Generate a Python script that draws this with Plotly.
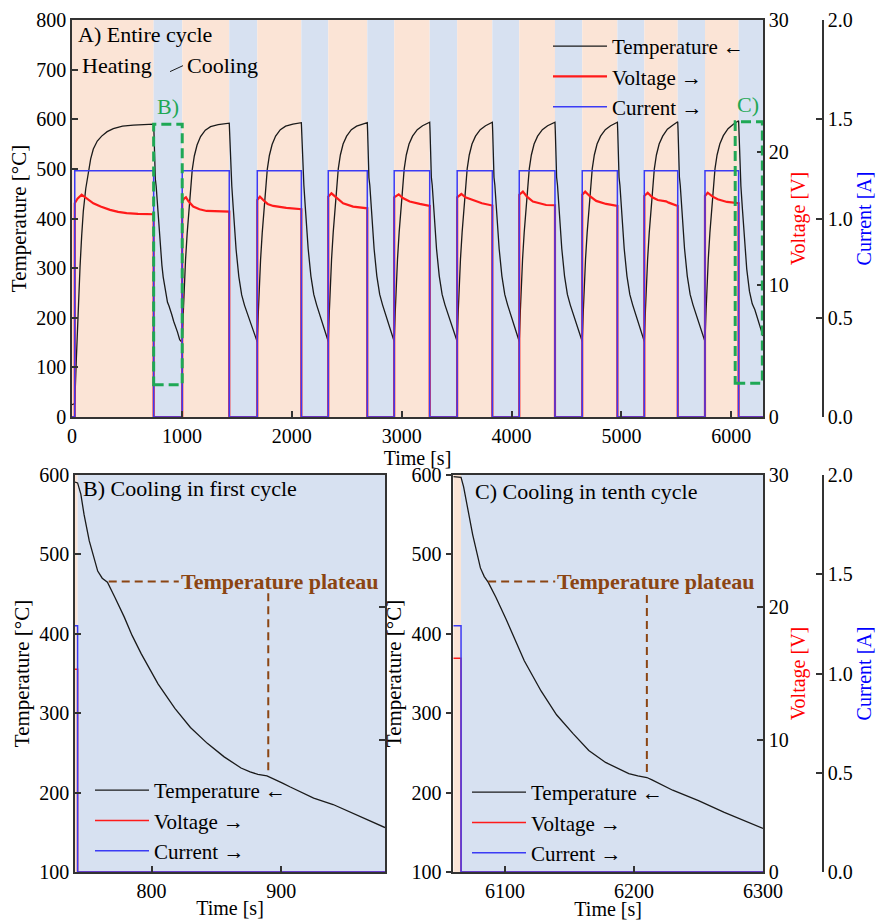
import plotly.graph_objects as go

FONT = "Liberation Serif, Times New Roman, DejaVu Serif, serif"

# ---------------- cycle timing (s) ----------------
heating_band_start = [0, 1003, 1686, 2332, 2932, 3505, 4070, 4643, 5208, 5760]
current_on = [25, 1003, 1686, 2332, 2932, 3505, 4070, 4643, 5208, 5760]
heating_end = [743, 1431, 2087, 2687, 3255, 3825, 4395, 4963, 5512, 6066]
time_end = 6288
current_level = 1.24  # A while heating

# ---------------- panel A: temperature (degC) ----------------
temp_time = [
    0, 25, 40, 55, 73, 88, 103, 125, 149, 170, 194, 230, 270, 320, 376, 460, 558, 650, 743,
    745.5, 748, 752, 758.5, 766, 779, 792, 805, 818, 830, 843, 856, 869, 882, 895, 907, 925, 940, 960, 980, 1003,
    1013, 1023, 1033, 1048, 1063, 1078, 1094, 1113, 1138, 1170, 1213, 1261, 1330, 1431,
    1434, 1440, 1446, 1454, 1467, 1480, 1493, 1518, 1544, 1570, 1595, 1628, 1667, 1686,
    1696, 1706, 1716, 1731, 1746, 1761, 1777, 1796, 1821, 1853, 1896, 1944, 2010, 2087,
    2090, 2096, 2102, 2110, 2123, 2136, 2149, 2174, 2200, 2226, 2251, 2284, 2320, 2332,
    2342, 2352, 2362, 2377, 2392, 2407, 2423, 2442, 2467, 2499, 2542, 2590, 2640, 2687,
    2690, 2696, 2702, 2710, 2723, 2736, 2749, 2774, 2800, 2826, 2851, 2884, 2923, 2932,
    2942, 2952, 2962, 2977, 2992, 3007, 3023, 3042, 3067, 3099, 3142, 3190, 3255,
    3258, 3264, 3270, 3278, 3291, 3304, 3317, 3342, 3368, 3394, 3419, 3452, 3491, 3505,
    3515, 3525, 3535, 3550, 3565, 3580, 3596, 3615, 3640, 3672, 3715, 3763, 3825,
    3828, 3834, 3840, 3848, 3861, 3874, 3887, 3912, 3938, 3964, 3989, 4022, 4061, 4070,
    4080, 4090, 4100, 4115, 4130, 4145, 4161, 4180, 4205, 4237, 4280, 4328, 4395,
    4398, 4404, 4410, 4418, 4431, 4444, 4457, 4482, 4508, 4534, 4559, 4592, 4631, 4643,
    4653, 4663, 4673, 4688, 4703, 4718, 4734, 4753, 4778, 4810, 4853, 4901, 4963,
    4966, 4972, 4978, 4986, 4999, 5012, 5025, 5050, 5076, 5102, 5127, 5160, 5199, 5208,
    5218, 5228, 5238, 5253, 5268, 5283, 5299, 5318, 5343, 5375, 5418, 5466, 5512,
    5515, 5521, 5527, 5535, 5548, 5561, 5574, 5599, 5625, 5651, 5676, 5709, 5748, 5760,
    5770, 5780, 5790, 5805, 5820, 5835, 5851, 5870, 5895, 5927, 5970, 6018, 6066,
    6068, 6071, 6075, 6081, 6087, 6101, 6115, 6140, 6165, 6190, 6214, 6250, 6270, 6288,
]
temp_value = [
    25, 27, 120, 215, 302, 365, 415, 460, 497, 520, 540, 556, 566, 575, 581, 586, 588, 589, 590,
    576, 550, 517, 479, 465, 421, 375, 337, 306, 282, 262, 245, 231, 224, 217, 207, 193, 185, 171, 156, 150,
    212, 270, 316, 370, 418, 460, 498, 526, 548, 565, 578, 585, 589, 592,
    575, 518, 481, 466, 422, 376, 338, 283, 246, 225, 208, 186, 160, 151,
    213, 271, 317, 371, 419, 461, 499, 527, 549, 566, 579, 586, 590, 593,
    576, 519, 482, 467, 423, 377, 339, 284, 247, 226, 209, 187, 158, 152,
    214, 272, 318, 372, 420, 462, 500, 528, 550, 566, 579, 586, 590, 593,
    576, 519, 482, 467, 423, 377, 339, 284, 247, 226, 209, 187, 158, 152,
    214, 272, 318, 372, 420, 462, 500, 528, 550, 566, 579, 587, 594,
    577, 520, 483, 467, 423, 377, 339, 284, 247, 226, 209, 187, 158, 152,
    214, 272, 318, 372, 420, 462, 500, 528, 550, 566, 579, 587, 594,
    577, 520, 483, 467, 423, 377, 339, 284, 247, 226, 209, 187, 158, 152,
    214, 272, 318, 372, 420, 462, 500, 528, 550, 566, 579, 587, 594,
    577, 520, 483, 467, 423, 377, 339, 284, 247, 226, 209, 187, 158, 152,
    214, 272, 318, 372, 420, 462, 500, 528, 550, 566, 579, 587, 594,
    577, 520, 483, 467, 423, 377, 339, 284, 247, 226, 209, 187, 158, 152,
    214, 272, 318, 372, 420, 462, 500, 528, 550, 566, 580, 588, 595,
    578, 521, 484, 467, 423, 377, 339, 284, 247, 226, 209, 187, 158, 152,
    214, 272, 318, 372, 420, 462, 500, 528, 550, 567, 581, 590, 597,
    585, 560, 525, 483, 465, 418, 366, 298, 253, 228, 216, 190, 175, 163,
]

# ---------------- panel A: voltage (V) ----------------
volt_time = [
    0, 25, 25, 50, 88, 120, 194, 260, 346, 420, 497, 600, 743, 743,
    1003, 1003, 1020, 1037, 1060, 1103, 1160, 1225, 1320, 1431, 1431,
    1686, 1686, 1710, 1740, 1780, 1831, 1950, 2087, 2087,
    2332, 2332, 2361, 2400, 2467, 2558, 2687, 2687,
    2932, 2932, 2973, 3010, 3073, 3164, 3255, 3255,
    3505, 3505, 3543, 3580, 3650, 3730, 3825, 3825,
    4070, 4070, 4103, 4140, 4194, 4315, 4395, 4395,
    4643, 4643, 4670, 4710, 4770, 4860, 4963, 4963,
    5208, 5208, 5239, 5280, 5330, 5406, 5430, 5512, 5512,
    5760, 5760, 5785, 5830, 5876, 5960, 6066, 6066, 6288,
]
volt_value = [
    0, 0, 16.15, 16.5, 16.8, 16.6, 16.15, 15.9, 15.65, 15.5, 15.4, 15.35, 15.32, 0,
    0, 16.3, 16.5, 16.6, 16.3, 15.9, 15.7, 15.57, 15.53, 15.52, 0,
    0, 16.4, 16.65, 16.4, 16.1, 15.95, 15.8, 15.7, 0,
    0, 16.65, 16.9, 16.6, 16.15, 15.9, 15.77, 0,
    0, 16.6, 16.83, 16.55, 16.28, 16.1, 15.95, 0,
    0, 16.6, 16.85, 16.6, 16.4, 16.15, 15.98, 0,
    0, 16.8, 17.03, 16.65, 16.28, 16.02, 16.0, 0,
    0, 16.8, 17.03, 16.7, 16.33, 16.1, 15.95, 0,
    0, 16.7, 16.95, 16.6, 16.4, 16.3, 16.2, 15.95, 0,
    0, 16.7, 16.95, 16.65, 16.45, 16.25, 16.15, 0, 0,
]

# ---------------- panel B: cooling in first cycle ----------------
b_time = [741, 743, 745.5, 748, 752, 758.5, 762, 766, 772, 779, 785, 792, 805, 818, 830,
          843, 856, 869, 876, 882, 889, 895, 901, 907, 916, 925, 940, 960, 980]
b_temp = [591, 590, 576, 550, 517, 479, 470, 465, 445, 421, 398, 375, 337, 306, 282,
          262, 245, 231, 226, 223, 221, 217, 212, 207, 200, 193, 185, 171, 156]
b_step_time = [741, 743, 743, 980]
b_volt = [15.32, 15.32, 0, 0]
b_curr = [1.24, 1.24, 0, 0]
b_range = [741, 980]
b_heating_end = 743
b_plateau_T = 466
b_plateau_t = 890

# ---------------- panel C: cooling in tenth cycle ----------------
c_time = [6060, 6066, 6068, 6071, 6075, 6081, 6084, 6087, 6093, 6101, 6108, 6115, 6128, 6140,
          6153, 6165, 6178, 6190, 6196, 6203, 6210, 6214, 6222, 6230, 6250, 6270, 6300]
c_temp = [598, 597, 585, 560, 525, 483, 472, 465, 446, 418, 392, 366, 328, 298,
          274, 253, 238, 228, 224, 221, 219, 216, 209, 203, 190, 175, 155]
c_step_time = [6060, 6066, 6066, 6300]
c_volt = [16.15, 16.15, 0, 0]
c_curr = [1.24, 1.24, 0, 0]
c_range = [6060, 6300]
c_heating_end = 6066
c_plateau_T = 466
c_plateau_t = 6210

assert len(temp_time) == len(temp_value)
assert len(volt_time) == len(volt_value)
assert len(b_time) == len(b_temp) and len(c_time) == len(c_temp)

# ---------------- styling ----------------
ORANGE = "#FBE4D6"
BLUE_BG = "#D7E1F1"
T_COL = "#1a1a1a"
V_COL = "#FF1A1A"
I_COL = "#3B3BF5"
GREEN = "#1FA855"
BROWN = "#8B4513"
AX = "#333333"

# current square wave built from the cycle timing
cur_x, cur_y = [0], [0]
for on, off in zip(current_on, heating_end):
    cur_x += [on, on, off, off]
    cur_y += [0, current_level, current_level, 0]
cur_x.append(time_end)
cur_y.append(0)

fig = go.Figure()

# Panel A traces
fig.add_trace(go.Scatter(x=temp_time, y=temp_value, mode="lines", name="Temperature \u2190",
                         line=dict(color=T_COL, width=1.3), xaxis="x", yaxis="y",
                         legend="legend", legendgroup="a1"))
fig.add_trace(go.Scatter(x=volt_time, y=volt_value, mode="lines", name="Voltage \u2192",
                         line=dict(color=V_COL, width=2.2), xaxis="x", yaxis="y2",
                         legend="legend", legendgroup="a2"))
fig.add_trace(go.Scatter(x=cur_x, y=cur_y, mode="lines", name="Current \u2192",
                         line=dict(color=I_COL, width=1.5), xaxis="x", yaxis="y3",
                         legend="legend", legendgroup="a3"))

# Panel B traces
fig.add_trace(go.Scatter(x=b_time, y=b_temp, mode="lines", name="Temperature \u2190",
                         line=dict(color=T_COL, width=1.3), xaxis="x2", yaxis="y4",
                         legend="legend2", legendgroup="b1"))
fig.add_trace(go.Scatter(x=b_step_time, y=b_volt, mode="lines", name="Voltage \u2192",
                         line=dict(color=V_COL, width=1.5), xaxis="x2", yaxis="y5",
                         legend="legend2", legendgroup="b2"))
fig.add_trace(go.Scatter(x=b_step_time, y=b_curr, mode="lines", name="Current \u2192",
                         line=dict(color=I_COL, width=1.5), xaxis="x2", yaxis="y6",
                         legend="legend2", legendgroup="b3"))

# Panel C traces
fig.add_trace(go.Scatter(x=c_time, y=c_temp, mode="lines", name="Temperature \u2190",
                         line=dict(color=T_COL, width=1.3), xaxis="x3", yaxis="y7",
                         legend="legend3", legendgroup="c1"))
fig.add_trace(go.Scatter(x=c_step_time, y=c_volt, mode="lines", name="Voltage \u2192",
                         line=dict(color=V_COL, width=1.5), xaxis="x3", yaxis="y8",
                         legend="legend3", legendgroup="c2"))
fig.add_trace(go.Scatter(x=c_step_time, y=c_curr, mode="lines", name="Current \u2192",
                         line=dict(color=I_COL, width=1.5), xaxis="x3", yaxis="y9",
                         legend="legend3", legendgroup="c3"))

# ---------------- background bands ----------------
shapes = []
for i in range(len(heating_end)):
    shapes.append(dict(type="rect", xref="x", yref="y domain", x0=heating_band_start[i], x1=heating_end[i],
                       y0=0, y1=1, fillcolor=ORANGE, line_width=0, layer="below"))
    nxt = heating_band_start[i + 1] if i + 1 < len(heating_band_start) else time_end
    shapes.append(dict(type="rect", xref="x", yref="y domain", x0=heating_end[i], x1=nxt,
                       y0=0, y1=1, fillcolor=BLUE_BG, line_width=0, layer="below"))
shapes += [
    dict(type="rect", xref="x2", yref="y4 domain", x0=b_range[0], x1=b_heating_end, y0=0, y1=1,
         fillcolor=ORANGE, line_width=0, layer="below"),
    dict(type="rect", xref="x2", yref="y4 domain", x0=b_heating_end, x1=b_range[1], y0=0, y1=1,
         fillcolor=BLUE_BG, line_width=0, layer="below"),
    dict(type="rect", xref="x3", yref="y7 domain", x0=c_range[0], x1=c_heating_end, y0=0, y1=1,
         fillcolor=ORANGE, line_width=0, layer="below"),
    dict(type="rect", xref="x3", yref="y7 domain", x0=c_heating_end, x1=c_range[1], y0=0, y1=1,
         fillcolor=BLUE_BG, line_width=0, layer="below"),
]
# green zoom boxes
shapes += [
    dict(type="rect", xref="x", yref="y", x0=743, x1=1003, y0=65, y1=590,
         line=dict(color=GREEN, width=3, dash="10px,5px"), fillcolor="rgba(0,0,0,0)", layer="above"),
    dict(type="rect", xref="x", yref="y", x0=6035, x1=6282, y0=68, y1=595,
         line=dict(color=GREEN, width=3, dash="10px,5px"), fillcolor="rgba(0,0,0,0)", layer="above"),
]
# cooling pointer
shapes.append(dict(type="line", xref="x", yref="y", x0=892, y0=696, x1=1010, y1=708,
                   line=dict(color=T_COL, width=1)))
# temperature plateau markers
shapes += [
    dict(type="line", xref="x2", yref="y4", x0=767, x1=821, y0=b_plateau_T, y1=b_plateau_T,
         line=dict(color=BROWN, width=2, dash="8px,5px")),
    dict(type="line", xref="x2", yref="y4", x0=b_plateau_t, x1=b_plateau_t, y0=451, y1=222,
         line=dict(color=BROWN, width=2, dash="8px,5px")),
    dict(type="line", xref="x3", yref="y7", x0=6087, x1=6139, y0=c_plateau_T, y1=c_plateau_T,
         line=dict(color=BROWN, width=2, dash="8px,5px")),
    dict(type="line", xref="x3", yref="y7", x0=c_plateau_t, x1=c_plateau_t, y0=449, y1=222,
         line=dict(color=BROWN, width=2, dash="8px,5px")),
]

# ---------------- annotations ----------------
def txt(text, x, y, xref, yref, size=22, color="black", xanchor="left", bold=False):
    return dict(text=("<b>%s</b>" % text) if bold else text, x=x, y=y, xref=xref, yref=yref,
                showarrow=False, xanchor=xanchor, yanchor="middle",
                font=dict(family=FONT, size=size, color=color))

annotations = [
    txt("A) Entire cycle", 40, 770, "x", "y"),
    txt("Heating", 70, 708, "x", "y"),
    txt("Cooling", 1030, 708, "x", "y"),
    txt("B)", 869, 626, "x", "y", color=GREEN, xanchor="center"),
    txt("C)", 6150, 630, "x", "y", color=GREEN, xanchor="center"),
    txt("B) Cooling in first cycle", 0.02, 0.965, "x2 domain", "y4 domain"),
    txt("C) Cooling in tenth cycle", 0.062, 0.958, "x3 domain", "y7 domain"),
    txt("Temperature plateau", 821, b_plateau_T, "x2", "y4", color=BROWN, bold=True),
    txt("Temperature plateau", 6139, c_plateau_T, "x3", "y7", color=BROWN, bold=True),
]

# ---------------- axes ----------------
tickfont = dict(family=FONT, size=20, color="black")
titlefont = dict(family=FONT, size=20, color="black")
ytitlefont = dict(family=FONT, size=21, color="black")


def axis(**kw):
    base = dict(showline=True, linecolor=AX, linewidth=1.5, ticks="inside", ticklen=6,
                tickwidth=1.5, tickcolor=AX, showgrid=False, zeroline=False,
                tickfont=tickfont, automargin=False)
    base.update(kw)
    return base


TOP = [1 - 417 / 920, 1 - 20 / 920]
BOT = [1 - 872 / 920, 1 - 475 / 920]
XA = [72 / 878, 763 / 878]
XB = [75 / 878, 385 / 878]
XC = [453.3 / 878, 763 / 878]
I_POS = 823 / 878


def legend_box(x_px, y_px):
    return dict(x=x_px / 878, y=1 - y_px / 920, xanchor="left", yanchor="top",
                bgcolor="rgba(0,0,0,0)", font=dict(family=FONT, size=21),
                itemwidth=54, tracegroupgap=0, traceorder="grouped")


layout = dict(
    width=878, height=920, template="none",
    margin=dict(l=0, r=0, t=0, b=0),
    paper_bgcolor="white", plot_bgcolor="white",
    font=dict(family=FONT, size=20, color="black"),
    xaxis=axis(domain=XA, anchor="y", range=[0, time_end], tickvals=[0, 1000, 2000, 3000, 4000, 5000, 6000],
               mirror=True, title=dict(text="Time [s]", font=titlefont, standoff=0)),
    yaxis=axis(domain=TOP, anchor="x", range=[0, 800], dtick=100,
               title=dict(text="Temperature [\u00b0C]", font=ytitlefont, standoff=4)),
    yaxis2=axis(overlaying="y", side="right", anchor="x", range=[0, 30], tickvals=[0, 10, 20, 30],
                title=dict(text="Voltage [V]", font=dict(family=FONT, size=20, color="#FF0000"), standoff=3)),
    yaxis3=axis(overlaying="y", side="right", anchor="free", position=I_POS, range=[0, 2],
                tickvals=[0, 0.5, 1.0, 1.5, 2.0], tickformat=".1f",
                title=dict(text="Current [A]", font=dict(family=FONT, size=20, color="#0000FF"), standoff=3)),
    xaxis2=axis(domain=XB, anchor="y4", range=b_range, tickvals=[800, 900], mirror=True,
                title=dict(text="Time [s]", font=titlefont, standoff=0)),
    yaxis4=axis(domain=BOT, anchor="x2", range=[100, 600], dtick=100,
                title=dict(text="Temperature [\u00b0C]", font=ytitlefont, standoff=4)),
    yaxis5=axis(overlaying="y4", side="right", anchor="x2", range=[0, 30], tickvals=[0, 10, 20, 30],
                showticklabels=False),
    yaxis6=dict(overlaying="y4", side="right", anchor="x2", range=[0, 2], visible=False),
    xaxis3=axis(domain=XC, anchor="y7", range=c_range, tickvals=[6100, 6200, 6300], mirror=True,
                title=dict(text="Time [s]", font=titlefont, standoff=0)),
    yaxis7=axis(domain=BOT, anchor="x3", range=[100, 600], dtick=100, ticks="outside",
                title=dict(text="Temperature [\u00b0C]", font=ytitlefont, standoff=4)),
    yaxis8=axis(overlaying="y7", side="right", anchor="x3", range=[0, 30], tickvals=[0, 10, 20, 30],
                title=dict(text="Voltage [V]", font=dict(family=FONT, size=20, color="#FF0000"), standoff=3)),
    yaxis9=axis(overlaying="y7", side="right", anchor="free", position=I_POS, range=[0, 2],
                tickvals=[0, 0.5, 1.0, 1.5, 2.0], tickformat=".1f",
                title=dict(text="Current [A]", font=dict(family=FONT, size=20, color="#0000FF"), standoff=3)),
    legend=legend_box(548, 26),
    legend2=legend_box(90, 770),
    legend3=legend_box(467, 772),
    shapes=shapes,
    annotations=annotations,
)
fig.update_layout(**layout)
fig.write_html("out.html")
